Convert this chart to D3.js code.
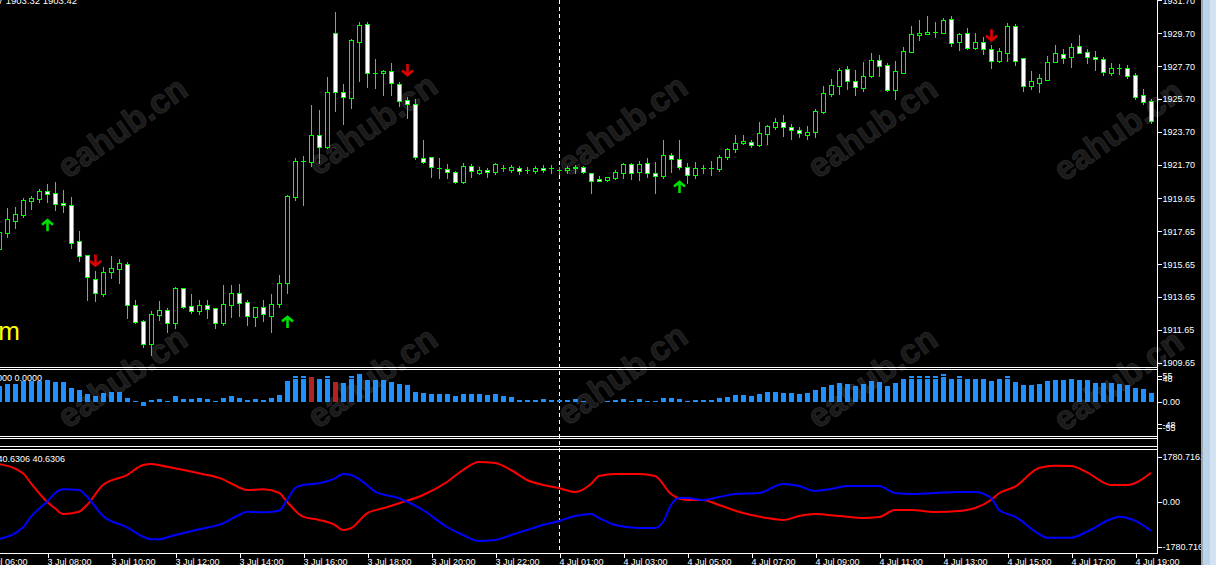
<!DOCTYPE html>
<html>
<head>
<meta charset="utf-8">
<script src="https://cdn.jsdelivr.net/npm/d3@7"></script>
<style>
  html, body { margin: 0; padding: 0; background: #000; overflow: hidden; }
  svg { display: block; }
</style>
</head>
<body>
<svg id="chart" width="1216" height="565"></svg>
<script>
(function() {

  // ---------- candles, XAUUSD M15, one per bar index
  var opens = [
    1916.57, 1917.57, 1918.30, 1918.64, 1919.51, 1919.63, 1920.08, 1919.96, 1919.37, 1919.23,
    1917.04, 1916.19, 1914.73, 1913.83, 1915.19, 1915.37, 1915.64, 1913.15, 1912.17, 1910.77,
    1912.56, 1912.84, 1912.05, 1914.20, 1913.09, 1912.82, 1913.15, 1912.96, 1912.05, 1913.15,
    1913.88, 1913.33, 1912.42, 1913.03, 1912.51, 1913.21, 1914.49, 1919.74, 1921.93, 1921.87,
    1923.51, 1922.78, 1929.72, 1926.13, 1925.76, 1929.17, 1930.27, 1927.28, 1927.28, 1927.41,
    1926.61, 1925.64, 1925.40, 1922.11, 1922.17, 1921.50, 1921.44, 1921.26, 1920.65, 1921.62,
    1921.20, 1921.38, 1921.26, 1921.50, 1921.38, 1921.50, 1921.38, 1921.32, 1921.50, 1921.52,
    1921.38, 1921.38, 1921.48, 1921.58, 1921.18, 1920.83, 1920.79, 1920.91, 1921.22, 1921.73,
    1921.28, 1921.79, 1921.18, 1921.03, 1922.28, 1922.03, 1921.58, 1921.10, 1921.52, 1921.48,
    1921.44, 1922.19, 1922.64, 1923.02, 1923.07, 1922.88, 1923.55, 1924.02, 1924.28, 1923.98,
    1923.80, 1923.49, 1923.71, 1924.93, 1926.02, 1926.51, 1927.51, 1926.78, 1926.39, 1927.10,
    1928.06, 1927.75, 1926.27, 1927.30, 1928.58, 1929.62, 1929.68, 1929.76, 1929.74, 1930.55,
    1929.19, 1929.70, 1928.82, 1929.15, 1928.73, 1928.01, 1928.52, 1930.14, 1928.18, 1926.51,
    1926.69, 1926.88, 1927.97, 1928.44, 1928.28, 1928.91, 1928.54, 1928.24, 1928.12, 1927.27,
    1927.57, 1927.57, 1927.14, 1925.93, 1925.58
  ];
  var highs = [
    1917.73, 1919.05, 1919.15, 1919.66, 1919.80, 1920.21, 1920.51, 1920.63, 1920.16, 1919.72,
    1917.67, 1916.19, 1915.23, 1915.46, 1916.15, 1915.95, 1915.76, 1913.47, 1912.25, 1912.80,
    1913.41, 1912.96, 1914.28, 1914.20, 1913.83, 1913.47, 1913.47, 1912.96, 1914.38, 1914.38,
    1914.44, 1913.47, 1913.03, 1913.47, 1913.82, 1914.99, 1919.84, 1922.11, 1922.23, 1925.34,
    1925.03, 1927.04, 1931.00, 1926.61, 1929.35, 1930.39, 1930.39, 1928.14, 1927.47, 1927.89,
    1926.74, 1925.82, 1925.70, 1923.21, 1922.17, 1922.11, 1921.75, 1921.32, 1921.81, 1921.75,
    1921.56, 1921.50, 1921.81, 1921.69, 1921.69, 1921.62, 1921.56, 1921.62, 1921.69, 1921.69,
    1921.58, 1921.62, 1921.69, 1921.64, 1921.22, 1921.02, 1920.98, 1921.38, 1921.79, 1921.79,
    1921.93, 1922.09, 1921.85, 1923.21, 1922.40, 1923.21, 1921.79, 1921.87, 1921.69, 1921.93,
    1922.29, 1922.74, 1923.51, 1923.49, 1923.21, 1924.30, 1924.12, 1924.53, 1924.73, 1924.18,
    1924.02, 1924.06, 1925.11, 1926.49, 1926.92, 1927.57, 1927.71, 1927.47, 1927.95, 1928.52,
    1928.38, 1927.87, 1928.01, 1928.88, 1930.14, 1930.51, 1930.75, 1930.39, 1930.61, 1930.75,
    1929.74, 1930.00, 1929.70, 1929.46, 1928.99, 1928.79, 1930.31, 1930.25, 1928.18, 1927.41,
    1927.22, 1928.32, 1928.99, 1928.75, 1929.13, 1929.60, 1928.75, 1928.62, 1928.24, 1927.87,
    1927.83, 1927.77, 1927.27, 1926.29, 1925.68
  ];
  var lows = [
    1916.39, 1917.29, 1917.83, 1918.54, 1918.99, 1919.43, 1919.45, 1918.95, 1918.82, 1916.65,
    1915.84, 1913.47, 1913.43, 1913.71, 1914.79, 1914.52, 1912.39, 1912.09, 1910.61, 1910.12,
    1912.25, 1911.54, 1911.75, 1912.98, 1912.66, 1912.60, 1912.36, 1911.75, 1911.95, 1912.45,
    1912.51, 1911.95, 1911.90, 1912.21, 1911.54, 1913.06, 1913.91, 1919.56, 1919.25, 1921.62,
    1921.81, 1922.72, 1924.97, 1924.18, 1925.15, 1926.80, 1926.43, 1926.37, 1925.95, 1925.95,
    1925.28, 1924.55, 1922.05, 1921.81, 1920.95, 1920.89, 1920.89, 1920.59, 1920.59, 1920.95,
    1921.14, 1920.95, 1921.14, 1921.32, 1921.26, 1921.14, 1921.20, 1921.20, 1921.26, 1921.22,
    1921.14, 1921.18, 1921.22, 1921.18, 1919.96, 1920.71, 1920.71, 1920.83, 1920.91, 1920.81,
    1920.77, 1920.97, 1920.00, 1920.91, 1921.28, 1921.42, 1920.57, 1920.91, 1921.18, 1921.10,
    1921.34, 1922.07, 1922.50, 1922.96, 1922.80, 1922.84, 1922.95, 1923.89, 1923.47, 1923.29,
    1923.41, 1923.29, 1923.41, 1924.87, 1925.88, 1926.01, 1926.31, 1925.95, 1926.21, 1927.06,
    1927.10, 1926.21, 1925.72, 1927.27, 1928.56, 1929.29, 1929.68, 1929.49, 1929.70, 1928.95,
    1928.68, 1928.75, 1928.75, 1928.44, 1927.61, 1927.95, 1928.01, 1927.77, 1926.21, 1926.29,
    1926.15, 1926.86, 1927.93, 1927.91, 1927.67, 1928.48, 1927.91, 1927.47, 1927.18, 1927.16,
    1927.22, 1926.98, 1925.70, 1925.40, 1924.26
  ];
  var closes = [
    1917.59, 1918.38, 1918.69, 1919.54, 1919.66, 1920.10, 1919.94, 1919.29, 1919.23, 1916.96,
    1916.17, 1914.85, 1913.88, 1915.15, 1915.40, 1915.70, 1913.15, 1912.15, 1910.77, 1912.62,
    1912.86, 1912.05, 1914.20, 1913.06, 1912.78, 1913.16, 1912.94, 1912.05, 1913.21, 1913.88,
    1913.30, 1912.48, 1913.03, 1912.60, 1913.21, 1914.49, 1919.78, 1921.93, 1921.93, 1923.51,
    1922.78, 1926.13, 1926.13, 1925.82, 1929.29, 1930.21, 1927.28, 1927.28, 1927.41, 1926.68,
    1925.58, 1925.40, 1922.17, 1921.87, 1921.56, 1921.50, 1921.26, 1920.65, 1921.62, 1921.32,
    1921.38, 1921.26, 1921.75, 1921.50, 1921.56, 1921.32, 1921.38, 1921.50, 1921.38, 1921.52,
    1921.38, 1921.48, 1921.58, 1921.24, 1920.73, 1920.73, 1920.94, 1921.26, 1921.73, 1921.18,
    1921.73, 1921.18, 1921.03, 1922.29, 1922.07, 1921.58, 1921.10, 1921.48, 1921.52, 1921.48,
    1922.19, 1922.64, 1923.01, 1923.13, 1922.88, 1923.61, 1924.04, 1924.28, 1923.98, 1923.80,
    1923.61, 1923.69, 1924.95, 1926.05, 1926.54, 1927.45, 1926.82, 1926.45, 1927.08, 1928.06,
    1927.73, 1926.23, 1927.39, 1928.60, 1929.64, 1929.70, 1929.76, 1929.76, 1930.49, 1929.13,
    1929.64, 1928.82, 1929.15, 1928.73, 1928.03, 1928.60, 1930.14, 1928.03, 1926.51, 1926.80,
    1926.98, 1927.95, 1928.48, 1928.22, 1928.87, 1928.52, 1928.24, 1928.12, 1927.33, 1927.57,
    1927.57, 1927.08, 1925.84, 1925.50, 1924.38
  ];

  // ---------- signal arrows (bar index, price of arrow tip)
  var upArrowBars = [6, 36, 85];
  var upArrowPrices = [1918.38, 1912.50, 1920.71];
  var downArrowBars = [12, 51, 124];
  var downArrowPrices = [1915.50, 1927.10, 1929.21];

  // ---------- histogram sub window
  var histValues = [
    33.8, 37.5, 37.5, 44.4, 44.4, 44.4, 45.9, 41.7, 41.7, 29.0,
    24.8, 16.2, 12.0, 19.0, 20.6, 20.6, 7.8, 1.4, -8.5, 3.6,
    5.7, 1.4, 12.0, 5.7, 5.7, 7.8, 5.7, 1.4, 7.8, 12.0,
    7.8, 3.6, 5.7, 3.6, 7.8, 14.1, 43.8, 48.0, 48.0, 48.0,
    48.0, 48.0, 41.7, 39.6, 48.0, 58.6, 45.9, 45.9, 45.9, 42.5,
    37.5, 35.3, 20.6, 18.3, 16.2, 16.2, 16.2, 12.0, 16.2, 16.2,
    16.2, 14.1, 16.2, 12.0, 9.9, 3.6, 3.6, 3.6, 5.7, 3.6,
    3.6, 3.6, 5.7, 1.4, 0, 0, 1.4, 3.6, 5.7, 1.4,
    5.7, 1.4, 1.4, 7.8, 7.8, 5.7, 1.4, 3.6, 3.6, 3.6,
    7.8, 9.9, 14.1, 14.1, 12.0, 16.2, 20.6, 20.6, 18.3, 18.3,
    16.2, 18.3, 24.8, 31.1, 35.3, 39.6, 37.5, 33.2, 37.5, 43.8,
    41.7, 33.2, 39.6, 48.0, 48.0, 48.0, 48.0, 48.0, 52.2, 48.0,
    48.0, 48.0, 48.0, 48.0, 43.8, 48.0, 48.0, 41.7, 35.3, 35.3,
    37.5, 43.8, 45.9, 45.9, 48.0, 45.9, 45.9, 39.6, 39.6, 39.6,
    37.5, 35.3, 29.0, 26.9, 18.3
  ];
  var histCapBars = [37, 38, 39, 41, 44, 114, 115, 116, 117, 118, 120, 126];
  var histCapValues = [55, 55, 52, 55, 54, 54, 54, 54, 54, 58.6, 54, 55];
  var histRedBars = [39, 42];

  // ---------- line sub window
  var redBars = [0, 3, 4, 6, 7, 8, 10, 11, 13, 16, 18, 19, 21, 25, 28, 29, 31, 33, 35, 36,
    38, 40, 42, 43, 44, 46, 48, 50, 53, 56, 58, 60, 62, 64, 66, 68, 70, 72, 74, 75,
    77, 80, 82, 84, 86, 88, 90, 93, 96, 98, 100, 102, 105, 108, 110, 112, 114, 117, 120, 122,
    124, 125, 127, 130, 132, 134, 136, 139, 141, 144];
  var redValues = [1484, 1117, 722, -4, -265, -490, -399, -134, 655, 1050, 1445, 1484, 1378, 1117, 880, 722, 458, 486, 351, -4,
    -596, -726, -924, -1121, -1054, -462, -265, -67, 261, 774, 1248, 1563, 1524, 1248, 853, 655, 537, 379, 695, 1011,
    1090, 1090, 1011, 300, 63, 63, -134, -450, -647, -726, -569, -490, -569, -647, -608, -332, -332, -411, -371, -253,
    63, 328, 588, 1327, 1417, 1405, 1157, 655, 655, 1141];
  var blueBars = [0, 3, 4, 6, 7, 8, 10, 11, 13, 16, 18, 19, 20, 22, 25, 28, 30, 31, 33, 35,
    36, 37, 38, 40, 42, 43, 44, 46, 47, 50, 53, 56, 58, 60, 62, 64, 66, 68, 70, 72,
    74, 75, 77, 80, 82, 83, 84, 85, 86, 88, 90, 92, 95, 98, 100, 102, 104, 106, 110, 112,
    114, 117, 120, 122, 124, 125, 127, 130, 131, 134, 136, 139, 140, 142, 144];
  var blueValues = [-1477, -1015, -596, -4, 328, 486, 458, 193, -569, -1015, -1386, -1488, -1488, -1319, -1094, -857, -529, -399, -422, -359,
    63, 525, 655, 722, 920, 1090, 1050, 655, 391, 130, -332, -1003, -1319, -1556, -1516, -1319, -1121, -924, -766, -569,
    -490, -647, -924, -1042, -1042, -805, -134, 142, 142, 63, 182, 300, 340, 695, 616, 418, 497, 616, 616, 340,
    300, 340, 379, 379, 142, -332, -596, -1279, -1425, -1425, -1188, -687, -596, -754, -1149];

  // ---------- axes
  var priceTicks = [1909.65, 1911.65, 1913.65, 1915.65, 1917.65, 1919.65, 1921.70, 1923.70, 1925.70, 1927.70, 1929.70, 1931.70];
  var histTicks = [55, 48, 0, -48, -55];
  var histTickLabels = ['55', '48', '0.00', '-48', '-55'];
  var lineTicks = [1780.7161, 0, -1780.7161];
  var lineTickLabels = ['1780.7161', '0.00', '-1780.716'];
  var timeTickBars = [-2, 6, 14, 22, 30, 38, 46, 54, 62, 70, 78, 86, 94, 102, 110, 118, 126, 134, 142];
  var timeTickLabels = ['3 Jul 06:00', '3 Jul 08:00', '3 Jul 10:00', '3 Jul 12:00', '3 Jul 14:00', '3 Jul 16:00',
    '3 Jul 18:00', '3 Jul 20:00', '3 Jul 22:00', '4 Jul 01:00', '4 Jul 03:00', '4 Jul 05:00', '4 Jul 07:00',
    '4 Jul 09:00', '4 Jul 11:00', '4 Jul 13:00', '4 Jul 15:00', '4 Jul 17:00', '4 Jul 19:00'];
  var daySeparatorBar = 70;

  // ---------- watermark
  var watermarkText = 'eahub.cn';
  var watermarkSpots = [[122, 127], [372, 124], [622, 125], [872, 127], [1118, 130],
    [122, 377], [372, 377], [622, 374], [872, 377], [1118, 380]];

  // ---------- layout
  var plotRight = 1157;
  var font = '"Liberation Sans", Arial, sans-serif';
  var green = '#00ff00';

  var svg = d3.select('#chart');

  var x = d3.scaleLinear().domain([0, 144]).range([-1, 1151]);
  var y = d3.scaleLinear().domain([1909.65, 1929.70]).range([362.7, 33.3]);
  var yHist = d3.scaleLinear().domain([-55, 55]).range([427.7, 375.7]);
  var yLine = d3.scaleLinear().domain([-1780.7161, 1780.7161]).range([546.7, 456.5]);

  svg.append('rect')
    .attr('width', 1216)
    .attr('height', 565)
    .attr('fill', '#000');

  var defs = svg.append('defs');
  [['clipMain', 0, 0, plotRight, 367], ['clipHist', 0, 370, plotRight, 66], ['clipLine', 0, 450, plotRight, 103]]
    .forEach(function(c) {
      defs.append('clipPath').attr('id', c[0]).append('rect')
        .attr('x', c[1]).attr('y', c[2]).attr('width', c[3]).attr('height', c[4]);
    });

  // ---------- watermark (under everything)
  svg.append('g').selectAll('text')
    .data(watermarkSpots)
    .enter().append('text')
    .attr('transform', function(d) { return 'translate(' + d[0] + ',' + d[1] + ') rotate(-35)'; })
    .attr('text-anchor', 'middle')
    .attr('dy', '0.35em')
    .style('font-family', font)
    .style('font-weight', 'bold')
    .style('font-size', '34px')
    .style('fill', '#1a1a1a')
    .style('stroke', '#262626')
    .style('stroke-width', '1px')
    .text(watermarkText);

  // ---------- day separator
  svg.append('line')
    .attr('x1', x(daySeparatorBar) + 0.5)
    .attr('x2', x(daySeparatorBar) + 0.5)
    .attr('y1', 0)
    .attr('y2', 553)
    .style('stroke', '#fff')
    .style('stroke-dasharray', '4,3')
    .style('stroke-width', 1);

  // ---------- candles
  var bars = d3.range(opens.length);
  var main = svg.append('g')
    .attr('clip-path', 'url(#clipMain)')
    .attr('shape-rendering', 'crispEdges');

  main.selectAll('line.wick')
    .data(bars)
    .enter().append('line')
    .attr('class', 'wick')
    .attr('x1', function(i) { return x(i) + 0.5; })
    .attr('x2', function(i) { return x(i) + 0.5; })
    .attr('y1', function(i) { return Math.round(y(highs[i])); })
    .attr('y2', function(i) { return Math.round(y(lows[i])) + 1; })
    .style('stroke', green)
    .style('stroke-width', 1);

  main.selectAll('rect.body')
    .data(bars.filter(function(i) { return opens[i] !== closes[i]; }))
    .enter().append('rect')
    .attr('class', 'body')
    .attr('x', function(i) { return x(i) - 1.5; })
    .attr('y', function(i) { return Math.round(y(Math.max(opens[i], closes[i]))) + 0.5; })
    .attr('width', 4)
    .attr('height', function(i) {
      return Math.max(1, Math.round(y(Math.min(opens[i], closes[i]))) - Math.round(y(Math.max(opens[i], closes[i]))));
    })
    .style('fill', function(i) { return closes[i] < opens[i] ? '#fff' : '#000'; })
    .style('stroke', green)
    .style('stroke-width', 1);

  main.selectAll('line.doji')
    .data(bars.filter(function(i) { return opens[i] === closes[i]; }))
    .enter().append('line')
    .attr('class', 'doji')
    .attr('x1', function(i) { return x(i) - 2; })
    .attr('x2', function(i) { return x(i) + 3; })
    .attr('y1', function(i) { return Math.round(y(opens[i])) + 0.5; })
    .attr('y2', function(i) { return Math.round(y(opens[i])) + 0.5; })
    .style('stroke', green)
    .style('stroke-width', 1);

  // ---------- arrows
  function arrowPath(cx, tip, dir) {
    var h = 12, w = 5.5;
    return 'M' + cx + ',' + tip + 'L' + cx + ',' + (tip + dir * h) +
      'M' + (cx - w) + ',' + (tip + dir * w) + 'L' + cx + ',' + (tip + dir * 1) + 'L' + (cx + w) + ',' + (tip + dir * w);
  }

  main.selectAll('path.up')
    .data(upArrowBars)
    .enter().append('path')
    .attr('class', 'up')
    .attr('d', function(b, i) { return arrowPath(x(b) + 0.5, y(upArrowPrices[i]), 1); })
    .attr('shape-rendering', 'auto')
    .style('fill', 'none')
    .style('stroke', '#00e000')
    .style('stroke-width', 2.6);

  main.selectAll('path.down')
    .data(downArrowBars)
    .enter().append('path')
    .attr('class', 'down')
    .attr('d', function(b, i) { return arrowPath(x(b) + 0.5, y(downArrowPrices[i]), -1); })
    .attr('shape-rendering', 'auto')
    .style('fill', 'none')
    .style('stroke', '#e00000')
    .style('stroke-width', 2.6);

  // ---------- histogram
  var hist = svg.append('g')
    .attr('clip-path', 'url(#clipHist)')
    .attr('shape-rendering', 'crispEdges');

  function histColor(i) {
    return histRedBars.indexOf(i) >= 0 ? '#b22222' : '#1e90ff';
  }

  hist.selectAll('rect.bar')
    .data(bars)
    .enter().append('rect')
    .attr('class', 'bar')
    .attr('x', function(i) { return x(i) - 2; })
    .attr('y', function(i) { return Math.round(yHist(Math.max(0, histValues[i]))); })
    .attr('width', 5)
    .attr('height', function(i) { return Math.abs(Math.round(yHist(histValues[i])) - Math.round(yHist(0))); })
    .style('fill', histColor);

  hist.selectAll('rect.cap')
    .data(histCapBars)
    .enter().append('rect')
    .attr('class', 'cap')
    .attr('x', function(b) { return x(b) - 2; })
    .attr('y', function(b, i) { return Math.round(yHist(histCapValues[i])); })
    .attr('width', 5)
    .attr('height', 2)
    .style('fill', function(b) { return histColor(b); });

  // ---------- lines
  var lineGroup = svg.append('g').attr('clip-path', 'url(#clipLine)');
  var line = d3.line()
    .x(function(d) { return x(d[0]); })
    .y(function(d) { return yLine(d[1]); })
    .curve(d3.curveMonotoneX);

  lineGroup.append('path')
    .attr('d', line(redBars.map(function(b, i) { return [b, redValues[i]]; })))
    .style('fill', 'none')
    .style('stroke', '#ff0000')
    .style('stroke-width', 2);

  lineGroup.append('path')
    .attr('d', line(blueBars.map(function(b, i) { return [b, blueValues[i]]; })))
    .style('fill', 'none')
    .style('stroke', '#0000ff')
    .style('stroke-width', 2);

  // ---------- frames
  var frame = svg.append('g')
    .attr('shape-rendering', 'crispEdges')
    .style('stroke', '#fff')
    .style('stroke-width', 1);

  [367.5, 369.5, 436.5, 438.5, 446.5, 449.5, 553.5].forEach(function(fy) {
    frame.append('line').attr('x1', 0).attr('x2', plotRight).attr('y1', fy).attr('y2', fy);
  });
  frame.append('line').attr('x1', plotRight + 0.5).attr('x2', plotRight + 0.5).attr('y1', 0).attr('y2', 554);

  // ---------- axes
  function styleAxis(g) {
    g.select('.domain').remove();
    g.selectAll('line').style('stroke', '#fff').attr('shape-rendering', 'crispEdges');
    g.selectAll('text')
      .style('fill', '#fff')
      .style('font-family', font)
      .style('font-size', '9px');
  }

  function rightAxis(scale, ticks, labels) {
    return d3.axisRight(scale)
      .tickValues(ticks)
      .tickFormat(function(d, i) { return labels ? labels[i] : d3.format('.2f')(d); })
      .tickSize(4)
      .tickPadding(1);
  }

  svg.append('g')
    .attr('transform', 'translate(' + (plotRight + 0.5) + ',0)')
    .call(rightAxis(y, priceTicks))
    .call(styleAxis);

  svg.append('g')
    .attr('transform', 'translate(' + (plotRight + 0.5) + ',0)')
    .call(rightAxis(yHist, histTicks, histTickLabels))
    .call(styleAxis);

  svg.append('g')
    .attr('transform', 'translate(' + (plotRight + 0.5) + ',0)')
    .call(rightAxis(yLine, lineTicks, lineTickLabels))
    .call(styleAxis);

  var timeAxis = svg.append('g')
    .attr('transform', 'translate(0,553.5)')
    .call(d3.axisBottom(x)
      .tickValues(timeTickBars)
      .tickFormat(function(d, i) { return timeTickLabels[i]; })
      .tickSize(4)
      .tickPadding(1))
    .call(styleAxis);
  timeAxis.selectAll('.tick line').attr('transform', 'translate(0.5,0)');
  timeAxis.selectAll('text').attr('text-anchor', 'start').attr('dx', 0);

  // ---------- panel captions
  function caption(txt, ax, by, color, size) {
    svg.append('text')
      .attr('x', ax)
      .attr('y', by)
      .attr('text-anchor', 'end')
      .style('fill', color)
      .style('font-family', font)
      .style('font-size', size)
      .text(txt);
  }
  caption('1903.37 1903.32 1903.42', 77, 4, '#fff', '9.5px');
  caption('0.0000 0.0000', 42, 380.7, '#fff', '9px');
  caption('40.6306 40.6306', 65, 461.5, '#fff', '9px');
  caption('m', 20, 340, '#ffff00', '26px');

  // ---------- scroll bar strip
  svg.append('rect').attr('x', 1201).attr('y', 0).attr('width', 2).attr('height', 565).attr('fill', '#9aa6b2');
  svg.append('rect').attr('x', 1203).attr('y', 0).attr('width', 13).attr('height', 565).attr('fill', '#bcd3ea');
  svg.append('rect').attr('x', 1210).attr('y', 0).attr('width', 6).attr('height', 565).attr('fill', '#d3e3f4');

})();
</script>
</body>
</html>
